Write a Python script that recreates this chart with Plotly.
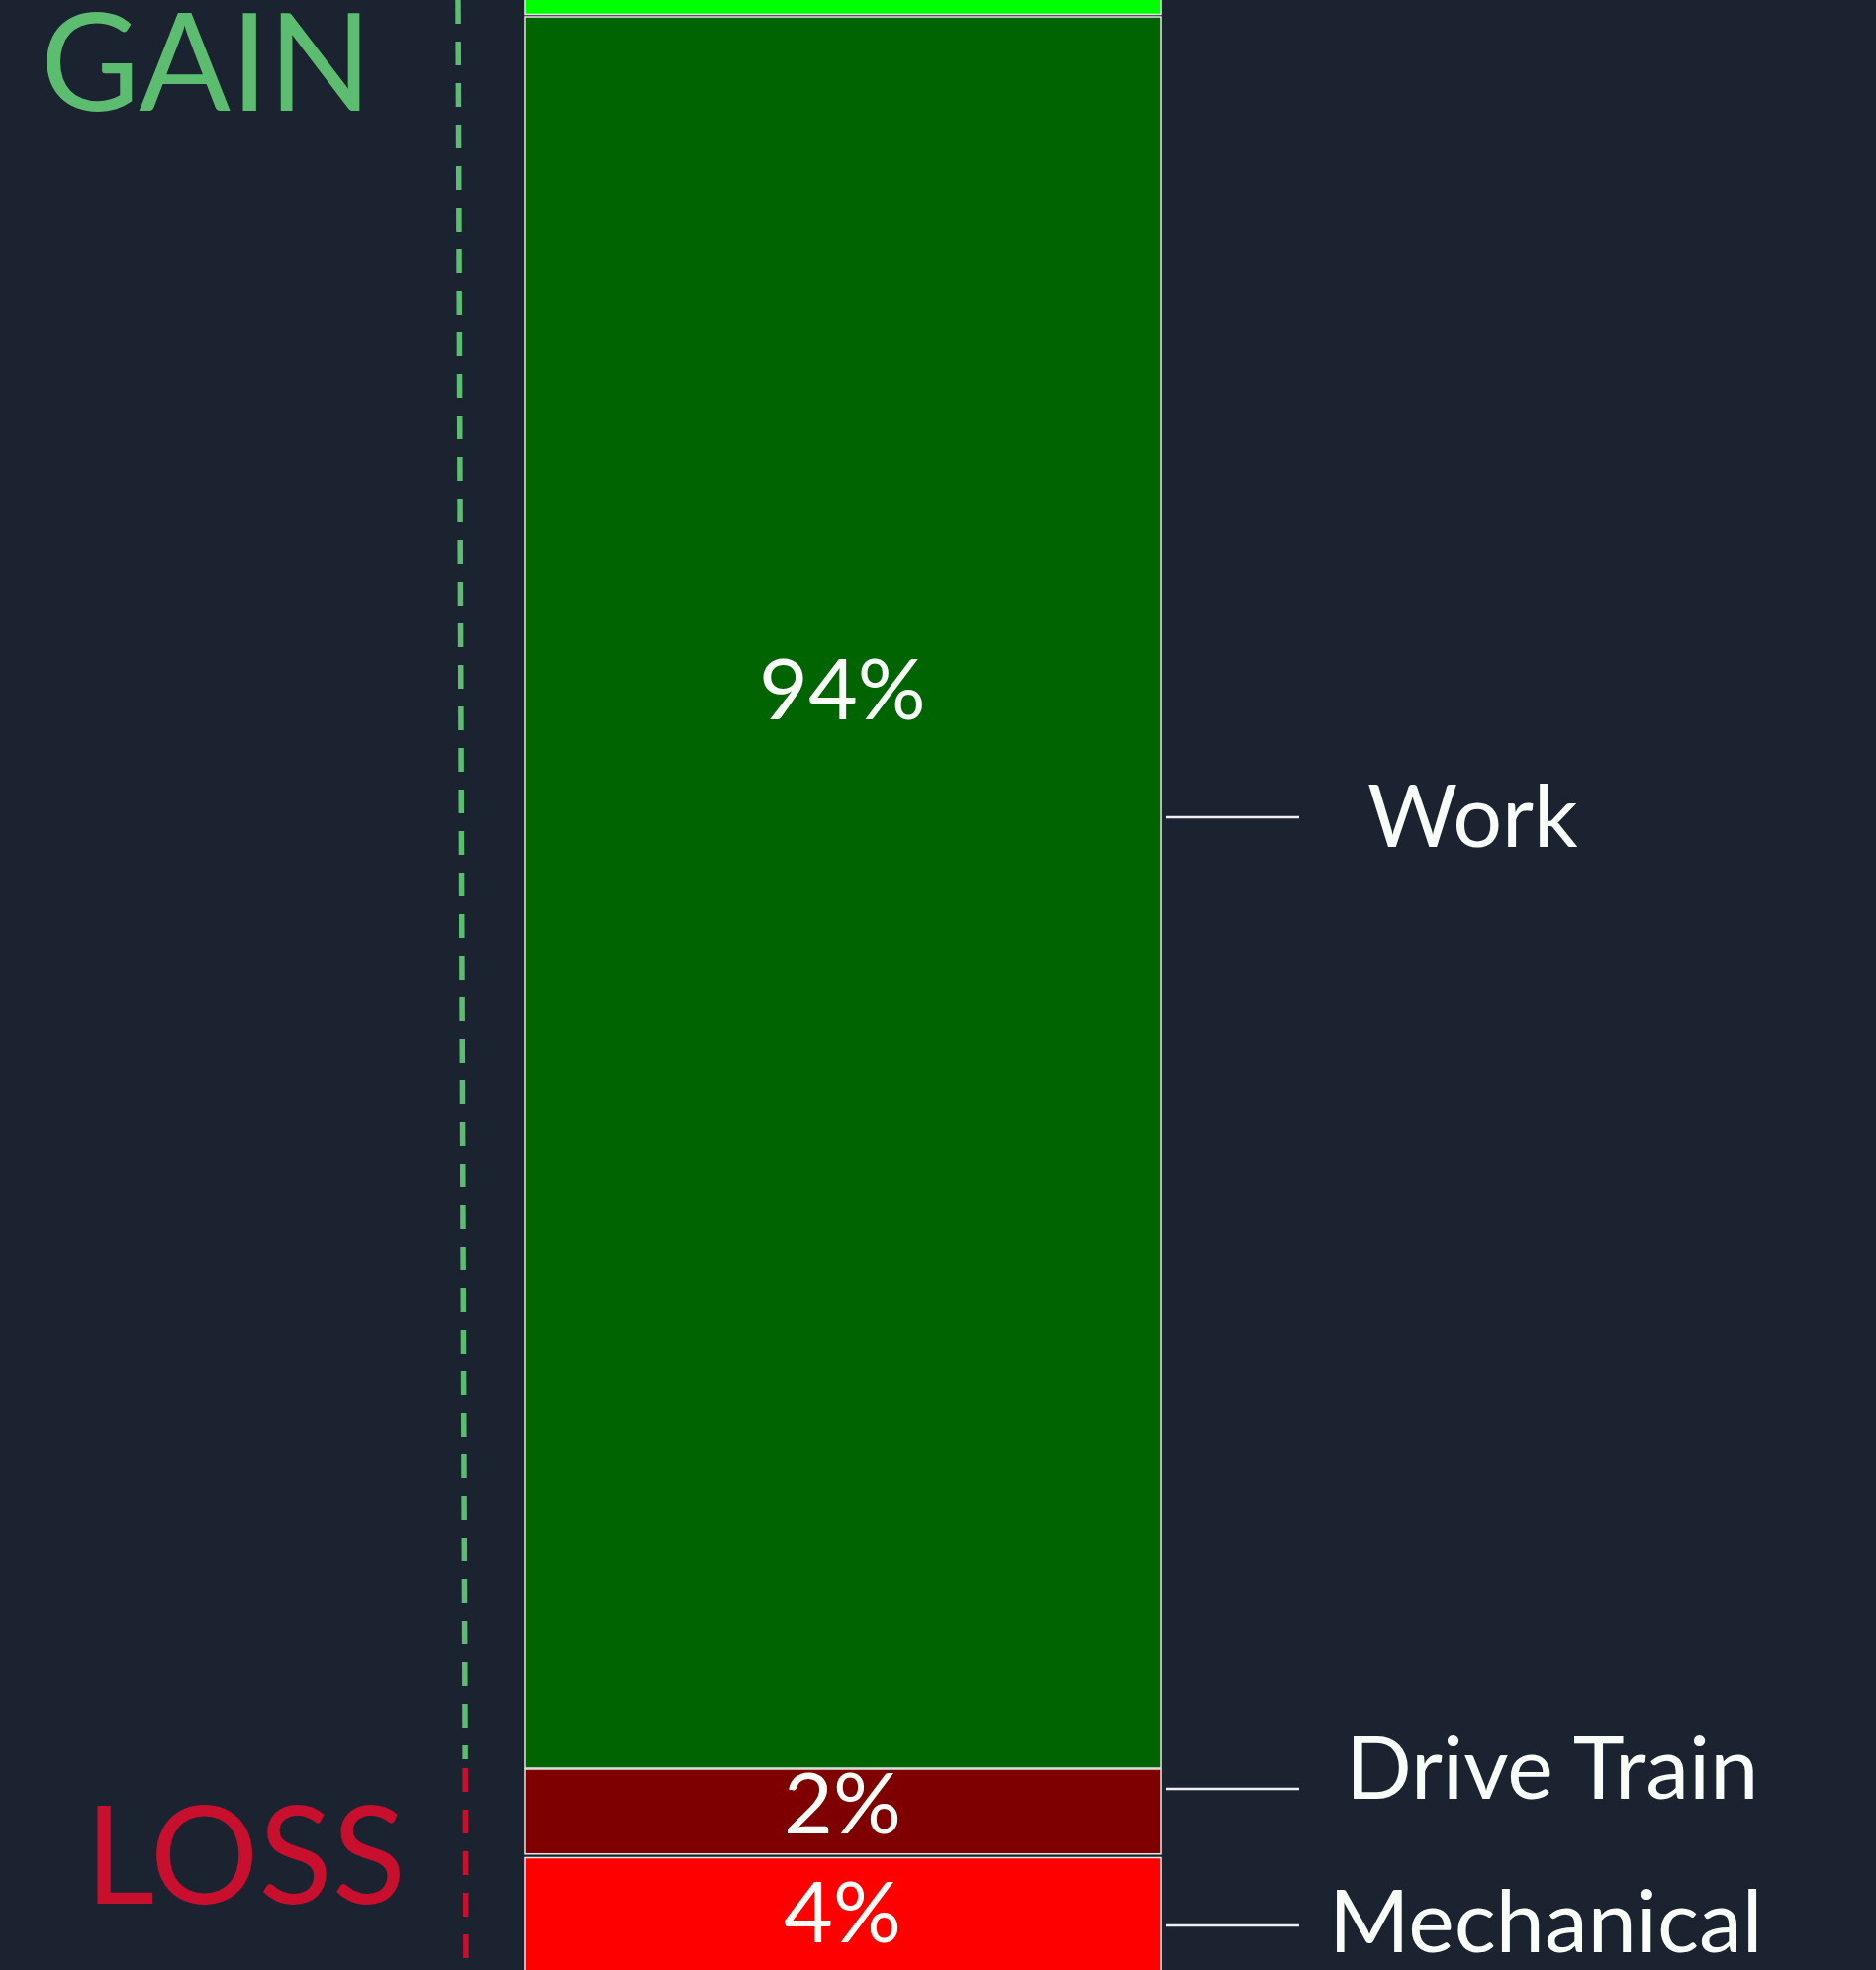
import plotly.graph_objects as go

# ---- data ----
categories = ["Gain", "Work", "Drive Train", "Mechanical"]
pct_labels = ["", "94%", "2%", "4%"]
segment_base = [94.13, 0.0, -0.05, -4.8]
segment_height = [5.0, 94.0, -4.55, -8.0]
bar_colors = ["#00ff00", "#006400", "#7f0000", "#ff0000"]
side_labels = ["Work", "Drive Train", "Mechanical"]

W, H = 1896, 1991
BG = "#1b2330"
FONT = "Lato"
TXT = "#f8fdf8"
DY = -4  # small vertical correction for the font's metrics

def px_x(p):
    return p / W

def px_y(p):
    return 1 - p / H

fig = go.Figure()
for cat, b, h, c in zip(categories, segment_base, segment_height, bar_colors):
    fig.add_trace(go.Bar(
        x=[0], y=[h], base=[b], width=1, name=cat,
        marker=dict(color=c, line=dict(color="#e6e6e6", width=1.5)),
        hoverinfo="skip", showlegend=False,
    ))

annotations = []
pct_pos = {"94%": 698, "2%": 1823, "4%": 1933}
for lab in pct_labels:
    if not lab:
        continue
    annotations.append(dict(text=lab, x=px_x(851), y=px_y(pct_pos[lab] + DY), xref="paper", yref="paper",
                            xanchor="center", yanchor="middle", showarrow=False,
                            font=dict(family=FONT, size=86, color=TXT)))

side_pos = {"Work": (1488, 826), "Drive Train": (1568, 1788), "Mechanical": (1562, 1943)}
leader_y = {"Work": 826, "Drive Train": 1808, "Mechanical": 1946}
shapes = []
for lab in side_labels:
    cx, cy = side_pos[lab]
    annotations.append(dict(text=lab, x=px_x(cx), y=px_y(cy + DY), xref="paper", yref="paper",
                            xanchor="center", yanchor="middle", showarrow=False,
                            font=dict(family=FONT, size=88, color=TXT)))
    ly = leader_y[lab]
    shapes.append(dict(type="line", xref="paper", yref="paper",
                       x0=px_x(1178), x1=px_x(1313), y0=px_y(ly), y1=px_y(ly),
                       line=dict(color="#f0f0f0", width=2.5)))

annotations.append(dict(text="GAIN", x=px_x(208), y=px_y(59), xref="paper", yref="paper",
                        xanchor="center", yanchor="middle", showarrow=False,
                        font=dict(family=FONT, size=137, color="#5cbd71")))
annotations.append(dict(text="LOSS", x=px_x(248), y=px_y(1871), xref="paper", yref="paper",
                        xanchor="center", yanchor="middle", showarrow=False,
                        font=dict(family=FONT, size=137, color="#c8102e")))

# dashed divider: green above the zero line, red below
split = 1778
x_top, x_bot = 463, 471
x_split = x_top + (x_bot - x_top) * split / H
shapes.append(dict(type="line", xref="paper", yref="paper",
                   x0=px_x(x_top), y0=px_y(0), x1=px_x(x_split), y1=px_y(split),
                   line=dict(color="#5cbd71", width=5.5, dash="24px,18px")))
shapes.append(dict(type="line", xref="paper", yref="paper",
                   x0=px_x(x_split), y0=px_y(1787), x1=px_x(x_bot), y1=px_y(H),
                   line=dict(color="#c8102e", width=5.5, dash="24px,18px")))

fig.update_layout(
    width=W, height=H, margin=dict(l=0, r=0, t=0, b=0),
    paper_bgcolor=BG, plot_bgcolor=BG, barmode="overlay",
    xaxis=dict(range=[-1.327, 1.626], visible=False, fixedrange=True),
    yaxis=dict(range=[-10.83, 94.9], visible=False, fixedrange=True),
    annotations=annotations, shapes=shapes,
)

fig.write_html(
    "out.html",
    config={"displayModeBar": False},
    post_script="document.body.style.margin='0';document.body.style.padding='0';"
                "document.body.style.overflow='hidden';document.body.style.background='#1b2330';",
)
